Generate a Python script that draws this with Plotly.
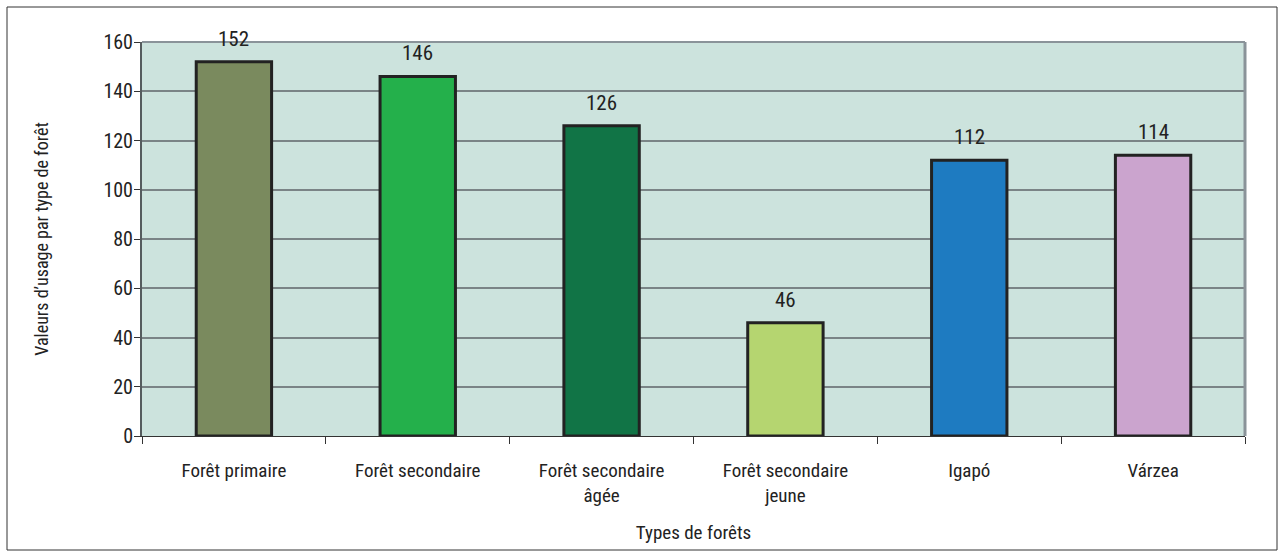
import plotly.graph_objects as go

categories = ["Forêt primaire", "Forêt secondaire", "Forêt secondaire<br>âgée",
              "Forêt secondaire<br>jeune", "Igapó", "Várzea"]
values = [152, 146, 126, 46, 112, 114]
bar_colors = ["#7A8A5E", "#24B04B", "#117446", "#B5D570", "#1E7BC1", "#CBA4CE"]
y_ticks = [0, 20, 40, 60, 80, 100, 120, 140, 160]

FONT = "Roboto Condensed, Liberation Sans Narrow, Arial Narrow, sans-serif"

fig = go.Figure()
fig.add_trace(go.Bar(
    x=categories, y=values,
    marker=dict(color=bar_colors, line=dict(color="#222222", width=3)),
    cliponaxis=False, hoverinfo="x+y",
))

for c, v in zip(categories, values):
    fig.add_annotation(x=c, y=v, text=str(v), showarrow=False,
                       yanchor="bottom", yshift=9,
                       font=dict(family=FONT, size=21, color="#222222"))

W, H = 1285, 558
L, R, T, B = 142, 1245, 42, 436
pw, ph = R - L, B - T

fig.update_layout(
    width=W, height=H,
    margin=dict(l=L, r=W - R, t=T, b=H - B),
    paper_bgcolor="white", plot_bgcolor="#CCE3DD",
    bargap=0.59, showlegend=False,
    font=dict(family=FONT, size=19, color="#222222"),
    xaxis=dict(
        tickson="boundaries", ticks="outside", ticklen=7, tickcolor="#333333",
        showline=True, linecolor="#333333", linewidth=1,
        tickfont=dict(size=19), ticklabelstandoff=17,
        title=dict(text="Types de forêts", font=dict(size=19), standoff=20),
    ),
    yaxis=dict(
        range=[0, 160], tickvals=y_ticks, ticks="outside", ticklen=6,
        tickcolor="#333333", showline=True, linecolor="#555c5e", linewidth=2,
        gridcolor="#7a8486", gridwidth=1.5, zeroline=False,
        tickfont=dict(size=20), ticklabelstandoff=-3,
        title=dict(text="Valeurs d’usage par type de forêt", font=dict(size=18), standoff=50),
    ),
    shapes=[
        dict(type="rect", xref="paper", yref="paper",
             x0=(7 - L) / pw, x1=(1277 - L) / pw,
             y0=(B - 550) / ph, y1=(B - 7) / ph,
             line=dict(color="#333333", width=1), layer="below"),
        dict(type="line", xref="paper", yref="paper", x0=1, x1=1, y0=0, y1=1,
             line=dict(color="#8a9399", width=3)),
        dict(type="line", xref="paper", yref="paper", x0=0, x1=1, y0=1, y1=1,
             line=dict(color="#8a9399", width=2)),
    ],
)

fig.write_html("out.html", config={"displayModeBar": False},
               post_script="document.body.style.margin='0';document.body.style.padding='0';")
